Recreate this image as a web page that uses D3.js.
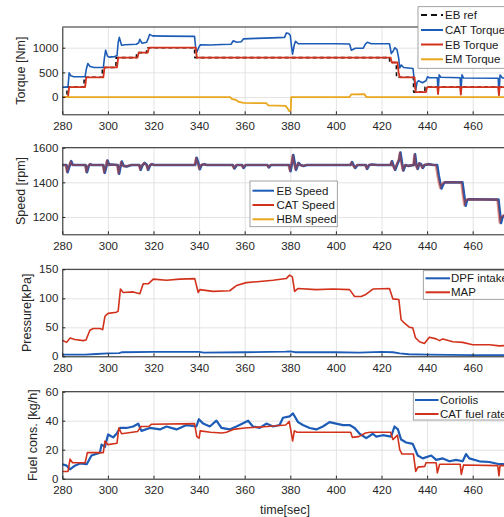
<!DOCTYPE html>
<html lang="en">
<head>
<meta charset="UTF-8">
<title>Engine test traces</title>
<script src="https://d3js.org/d3.v7.min.js"></script>
<style>
    body { margin: 0; padding: 0; overflow: hidden; background: #ffffff; }
    svg { display: block; font-family: "Liberation Sans", Arial, sans-serif; }
    .tick text { fill: #262626; font-size: 11.5px; }
    .axis path, .axis line { stroke: #262626; }
    .grid line { stroke: #dcdcdc; stroke-width: 0.8; }
    .grid path { display: none; }
    .ylabel, .xlabel { fill: #262626; font-size: 12.5px; }
    .legend text { fill: #1a1a1a; font-size: 11.5px; }
</style>
</head>
<body>
<svg id="chart"></svg>
<script>
// --- Data (time [s], value) ---
const xTicks = [280, 300, 320, 340, 360, 380, 400, 420, 440, 460];

const ebRef = [[280,0],[282,0],[282.1,200],[289.5,200],[289.6,400],[297.5,400],[297.6,600],[303.5,600],[303.6,800],[312.5,800],[312.6,900],[317,900],[317.1,1000],[338,1000],[338.1,800],[423.5,800],[423.6,700],[426.5,700],[426.6,400],[434,400],[434.1,100],[439,100],[439.1,200],[480,200]];

const catTorque = [[280,200],[282.5,200],[283,490],[283.8,430],[285,410],[290,410],[290.5,560],[291.2,680],[292.2,620],[294,600],[298,600],[298.5,800],[299,950],[299.8,830],[300.5,810],[303,820],[304,840],[304.5,1100],[305,1210],[306,1050],[307.5,1060],[312.5,1070],[313.5,1100],[314,1170],[315,1090],[317,1110],[317.8,1200],[318.3,1270],[319.5,1240],[325,1235],[338,1230],[338.5,1000],[339,910],[339.8,1000],[340.5,1060],[345,1055],[350,1065],[354,1070],[355,1140],[356.5,1110],[358.5,1120],[359.5,1180],[365,1190],[372,1200],[377.5,1210],[378.3,1300],[379.3,1290],[380,1250],[380.6,1000],[381,870],[381.7,1050],[382.3,1130],[383.5,1080],[390,1080],[400,1080],[406,1075],[406.8,950],[408.5,990],[412,990],[413,1080],[413.8,1110],[415.5,1080],[423.5,1080],[424.3,880],[425.2,940],[425.8,1000],[426.8,960],[427.5,800],[428,590],[428.7,650],[429.7,600],[433.8,580],[434.5,300],[435,140],[435.6,300],[436.2,330],[438,290],[439.5,330],[440.2,410],[441,390],[444.5,390],[444.8,105],[445.3,450],[446,400],[454.5,390],[454.8,75],[455.3,450],[456,385],[471.2,380],[471.5,40],[472,445],[473,385],[480,380]];

const ebTorque = [[280,0],[282.5,0],[283,200],[290,200],[290.5,400],[298,400],[298.5,600],[304,600],[304.5,800],[313,800],[313.5,900],[317.5,900],[318,1000],[338.5,1000],[339,800],[424,800],[424.5,700],[427,700],[427.5,500],[428,400],[434.5,400],[435,100],[439.5,100],[440,200],[444.5,200],[444.8,60],[445.1,200],[454.5,200],[454.8,50],[455.1,200],[471.2,200],[471.5,40],[471.8,200],[480,200]];

const emTorque = [[280,0],[353.5,0],[354.5,-40],[356,-55],[357.5,-100],[359.5,-120],[369.5,-125],[370.3,-170],[378,-180],[378.8,-230],[379.6,-290],[380.2,-270],[380.4,0],[406,0],[406.8,55],[412.5,60],[413.3,0],[480,0]];

const ebSpeed = [[280,1500],[281.8,1500],[282.3,1458],[283,1488],[283.9,1522],[284.6,1500],[290.2,1500],[290.8,1458],[291.6,1495],[292.3,1505],[293,1500],[298,1500],[298.6,1455],[299.3,1490],[299.8,1526],[300.6,1500],[301.3,1503],[304.3,1500],[304.9,1450],[305.5,1490],[306.1,1520],[306.9,1495],[308.3,1492],[310.3,1500],[313.8,1500],[314.4,1472],[315,1495],[316.1,1512],[317,1502],[317.7,1472],[318.5,1498],[319.3,1505],[320.3,1500],[338.3,1500],[338.9,1542],[339.6,1515],[340.3,1476],[341.1,1500],[342.3,1505],[343.3,1500],[354.8,1500],[355.5,1480],[356.5,1500],[358.9,1500],[359.5,1483],[360.5,1500],[370,1500],[370.6,1486],[371.5,1500],[379.5,1500],[380.1,1464],[380.9,1522],[381.3,1558],[382,1505],[382.5,1472],[383.6,1512],[384.5,1500],[385.8,1495],[387.3,1500],[406.5,1500],[407.1,1517],[407.7,1500],[408.5,1483],[409.5,1500],[413.1,1500],[413.7,1478],[414.6,1500],[415.8,1503],[418.3,1500],[424.1,1500],[424.6,1522],[425.3,1495],[426,1472],[426.8,1500],[427.8,1532],[428.3,1572],[429,1510],[429.6,1468],[430.5,1500],[431.8,1495],[434.2,1500],[434.7,1562],[435.3,1500],[435.9,1478],[436.6,1510],[437.3,1505],[438.1,1483],[438.9,1500],[440.6,1505],[442.8,1500],[444.4,1500],[445.1,1440],[445.8,1392],[446.3,1365],[447.1,1390],[447.8,1400],[455.5,1400],[456.2,1330],[456.9,1265],[457.5,1295],[458.1,1302],[471.3,1300],[471.9,1230],[472.4,1165],[473.1,1200],[474.1,1210],[480,1210]];

const catSpeed = [[280,1500],[281.5,1500],[282,1462],[282.8,1490],[283.6,1520],[284.3,1500],[290,1500],[290.5,1460],[291.3,1495],[292,1505],[292.7,1500],[297.8,1500],[298.3,1458],[299,1490],[299.5,1525],[300.3,1500],[301,1503],[304,1500],[304.6,1452],[305.2,1490],[305.8,1518],[306.6,1495],[308,1492],[310,1500],[313.6,1500],[314.1,1475],[314.7,1495],[315.8,1510],[316.8,1502],[317.4,1475],[318.3,1498],[319,1505],[320,1500],[338,1500],[338.6,1540],[339.3,1515],[340,1479],[340.8,1500],[342,1505],[343,1500],[354.5,1500],[355.2,1482],[356.2,1500],[358.6,1500],[359.2,1485],[360.2,1500],[369.8,1500],[370.3,1488],[371.2,1500],[379.2,1500],[379.8,1467],[380.6,1520],[381,1556],[381.7,1505],[382.2,1475],[383.3,1510],[384.2,1500],[385.5,1495],[387,1500],[406.2,1500],[406.8,1515],[407.4,1500],[408.2,1485],[409.2,1500],[412.8,1500],[413.4,1480],[414.3,1500],[415.5,1503],[418,1500],[423.8,1500],[424.3,1520],[425,1495],[425.7,1475],[426.5,1500],[427.5,1530],[428,1570],[428.7,1510],[429.3,1470],[430.2,1500],[431.5,1495],[433.9,1500],[434.4,1560],[435,1500],[435.6,1480],[436.3,1508],[437,1505],[437.8,1485],[438.6,1500],[440.3,1505],[442.5,1500],[443.8,1500],[444.5,1440],[445.2,1395],[445.7,1368],[446.5,1390],[447.2,1400],[455,1400],[455.6,1330],[456.3,1268],[456.9,1295],[457.5,1302],[470.8,1300],[471.3,1230],[471.8,1168],[472.5,1200],[473.5,1210],[480,1210]];

const hbmSpeed = ebSpeed;

const dpfIntake = [[280,3],[290,3],[295,4],[300,5],[305,5.5],[306,7],[320,7.5],[340,7.5],[342,6.5],[360,7],[378,8],[380,8.5],[382,7],[400,7],[410,6.5],[420,7.5],[425,7],[428,5],[432,3.5],[440,3],[450,2.5],[460,2],[480,2]];

const mapPressure = [[280,27.6],[281.9,24],[283.4,31.6],[285.5,29],[289.2,27],[290.4,28],[292.1,45],[293.6,48],[296.5,48],[297.7,46],[298.7,69],[300.1,74],[303.8,76],[304.5,78],[305.5,116],[306.7,110],[311.1,111],[314,108],[315.5,125],[317.7,125],[319.9,133],[325.7,131],[331.5,133],[338.1,134],[339.6,110],[340.3,115],[346.1,112],[353.4,113],[356.4,122],[360.7,127],[366.6,129],[372.4,131],[378.2,134],[379.7,140],[380.9,137],[381.9,112],[383.4,117],[391.4,115],[398.7,116],[406,115],[408.2,103],[411.1,103],[413.3,107],[416.2,116],[423.5,117],[425,99],[427.6,98],[428.6,63],[430.1,57],[432.3,50],[433.7,49],[434.9,32],[436.7,25],[438.8,22],[441,33],[444,30],[445.4,27],[446.9,30],[451.3,25],[455.6,24],[460,20],[467.3,20],[471.7,18],[480,20]];

const coriolis = [[280,10],[281.9,9],[283.4,6.5],[285.5,9],[287.7,10.5],[290.7,10],[292.8,16],[296.5,18],[297.2,23.5],[298.7,22],[300.1,30.5],[302.3,28.5],[303.8,31],[305.3,35],[308.2,35],[311.1,36],[313.3,38],[314.7,33],[318.4,35],[322.8,34],[325.7,36],[330.1,34],[334.5,37],[338.8,36],[339.9,41],[341.8,38],[344.7,36],[347.6,40],[349.8,35],[353.4,34],[356.4,36],[361.5,40],[363.6,36],[366.6,35],[369.5,38],[372.4,36],[375.3,37],[376.8,42],[379.7,43],[381.2,45],[383.4,39],[385.5,37],[388.5,35],[391.4,34],[394.3,36],[397.2,39],[400.1,38],[403.1,37],[406,37],[408.2,35],[410.4,31],[413.3,28],[416.2,31],[417.7,29],[420.6,30],[424.2,29],[425.7,36],[427.2,34],[428.6,27],[430.8,25],[433.7,24],[435.9,16],[438.1,14],[441.8,16],[444,13],[446.9,14],[449.8,12],[452.7,13],[455.6,12],[457.1,17],[458.5,14],[462.9,12],[467.3,11.5],[471.7,10],[480,10]];

const catFuel = [[280,5],[282.5,5],[283.4,13.5],[284.5,11],[290,11],[291,18],[298,18],[298.7,26],[300,23.5],[304,24.5],[304.8,35],[306,31],[313,32.5],[314.5,36],[318,36],[319,37.5],[338,38],[339,29],[340,28],[340.5,33],[345,32],[350,31.5],[352,32],[355,34],[360,35],[370,36],[378,37],[379.5,39.5],[380.5,31],[381,26],[381.8,33],[383,32],[400,32],[406.5,32],[407.2,28.5],[410,29],[413,31.5],[415,32],[424,32],[425,27],[427,30],[428,20],[429,17],[434,17],[435,5],[436,8],[439,8.5],[439.5,11],[444,11],[444.5,4],[445.5,10],[454.5,10],[455,3],[456,9.5],[471,9],[471.5,2],[472,9],[480,9]];

// --- Layout ---
const width = 540, height = 517;
const left = 62.3, right = 518.3;
const BLUE = "#1d5cb6", RED = "#d2321b", ORANGE = "#e9a71f";

const panels = [
    { top: 27, bottom: 114.3, domain: [-350, 1420], ticks: [0, 500, 1000], label: "Torque [Nm]", labelX: 21,
      series: [
          { data: ebRef, color: "#111111", width: 1.6, dash: "4,3" },
          { data: catTorque, color: BLUE, width: 1.6 },
          { data: ebTorque, color: RED, width: 1.8 },
          { data: emTorque, color: ORANGE, width: 1.8 }],
      legend: { x: 418, y: 6.7, w: 100, h: 61.6, lineX: [421, 443], textX: 445, rows: [15, 30, 44.5, 59.3],
                names: ["EB ref", "CAT Torque", "EB Torque", "EM Torque"] } },
    { top: 147.7, bottom: 234.3, domain: [1100, 1600], ticks: [1200, 1400, 1600], label: "Speed [rpm]", labelX: 21,
      series: [
          { data: hbmSpeed, color: ORANGE, width: 1.5 },
          { data: ebSpeed, color: BLUE, width: 2.6 },
          { data: catSpeed, color: RED, width: 2.2, opacity: 0.5 }],
      legend: { x: 250, y: 181, w: 87.3, h: 45.7, lineX: [252.5, 274], textX: 276.5, rows: [190.7, 205, 219.3],
                names: ["EB Speed", "CAT Speed", "HBM speed"], colors: [BLUE, RED, ORANGE] } },
    { top: 269.3, bottom: 356.3, domain: [0, 150], ticks: [0, 50, 100, 150], label: "Pressure[kPa]", labelX: 26.5,
      series: [
          { data: dpfIntake, color: BLUE, width: 1.8 },
          { data: mapPressure, color: RED, width: 1.6 }],
      legend: { x: 423.3, y: 270.7, w: 100, h: 28.6, lineX: [425.5, 450], textX: 451, rows: [278.3, 292.3],
                names: ["DPF intake", "MAP"] } },
    { top: 391.7, bottom: 478.7, domain: [0, 60], ticks: [0, 20, 40, 60], label: "Fuel cons. [kg/h]", labelX: 33,
      series: [
          { data: coriolis, color: BLUE, width: 2.2 },
          { data: catFuel, color: RED, width: 1.6 }],
      legend: { x: 413.3, y: 392.3, w: 100, h: 27.7, lineX: [415, 438.5], textX: 440, rows: [400, 414],
                names: ["Coriolis", "CAT fuel rate"] } }
];

const svg = d3.select("#chart").attr("width", width).attr("height", height);
const x = d3.scaleLinear().domain([280, 480]).range([left, right]);
const gridX = xTicks.concat([480]);

panels.forEach((p, i) => {
    const y = d3.scaleLinear().domain(p.domain).range([p.bottom, p.top]);
    const g = svg.append("g");
    const clipId = "clip" + i;
    svg.append("clipPath").attr("id", clipId)
        .append("rect").attr("x", left).attr("y", p.top).attr("width", right - left).attr("height", p.bottom - p.top);

    // grid
    g.append("g").attr("class", "grid")
        .attr("transform", `translate(0,${p.bottom})`)
        .call(d3.axisBottom(x).tickValues(gridX).tickSize(-(p.bottom - p.top)).tickFormat(""));
    g.append("g").attr("class", "grid")
        .attr("transform", `translate(${left},0)`)
        .call(d3.axisLeft(y).tickValues(p.ticks).tickSize(-(right - left)).tickFormat(""));

    // series
    const line = d3.line().x(d => x(d[0])).y(d => y(d[1]));
    const lines = g.append("g").attr("clip-path", `url(#${clipId})`);
    p.series.forEach(s => {
        lines.append("path")
            .datum(s.data)
            .attr("d", line)
            .attr("fill", "none")
            .attr("stroke", s.color)
            .attr("stroke-width", s.width)
            .attr("stroke-opacity", s.opacity || 1)
            .attr("stroke-linejoin", "round")
            .attr("stroke-dasharray", s.dash || null);
    });

    // axes (ticks pointing in, like MATLAB)
    const xa = g.append("g").attr("class", "axis")
        .attr("transform", `translate(0,${p.bottom})`)
        .call(d3.axisBottom(x).tickValues(xTicks).tickSizeInner(-3).tickSizeOuter(0).tickPadding(6));
    xa.selectAll(".tick text").attr("dy", "0.85em");
    g.append("g").attr("class", "axis")
        .attr("transform", `translate(${left},0)`)
        .call(d3.axisLeft(y).tickValues(p.ticks).tickFormat(d3.format("d")).tickSizeInner(-3).tickSizeOuter(0).tickPadding(4));
    g.append("line").attr("x1", left).attr("x2", right).attr("y1", p.top).attr("y2", p.top)
        .attr("stroke", "#262626").attr("stroke-width", 1);

    g.append("text").attr("class", "ylabel")
        .attr("transform", `translate(${p.labelX},${(p.top + p.bottom) / 2}) rotate(-90)`)
        .attr("text-anchor", "middle").attr("dy", "0.35em")
        .text(p.label);

    // legend
    const L = p.legend;
    const lg = svg.append("g").attr("class", "legend");
    lg.append("rect").attr("x", L.x).attr("y", L.y).attr("width", L.w).attr("height", L.h)
        .attr("fill", "#ffffff").attr("stroke", "#8c8c8c").attr("stroke-width", 0.8);
    L.names.forEach((name, k) => {
        const s = p.series[k];
        const col = L.colors ? L.colors[k] : s.color;
        const dash = L.colors ? null : (s.dash || null);
        lg.append("line").attr("x1", L.lineX[0]).attr("x2", L.lineX[1])
            .attr("y1", L.rows[k]).attr("y2", L.rows[k])
            .attr("stroke", col).attr("stroke-width", 2)
            .attr("stroke-dasharray", dash ? "6,4" : null);
        lg.append("text").attr("x", L.textX).attr("y", L.rows[k]).attr("dy", "0.35em").text(name);
    });
});

svg.append("text").attr("class", "xlabel")
    .attr("x", 285).attr("y", 510).attr("dy", "0.35em")
    .attr("text-anchor", "middle").text("time[sec]");
</script>
</body>
</html>
